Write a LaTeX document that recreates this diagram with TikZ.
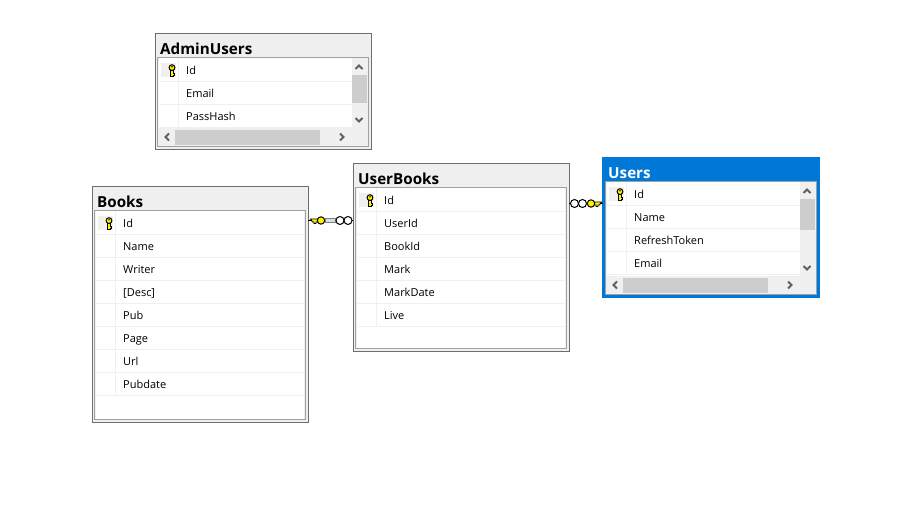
\documentclass[tikz,border=0pt]{standalone}
\usepackage{fontspec}
\setmainfont{Open Sans}
\definecolor{rowline}{HTML}{F0F0F0}
\definecolor{panelbg}{HTML}{F0F0F0}
\definecolor{titlebg}{HTML}{EFEFEF}
\definecolor{thumbc}{HTML}{CDCDCD}
\definecolor{edgec}{HTML}{6E6E6E}
\definecolor{panelc}{HTML}{A0A0A0}
\definecolor{selblue}{HTML}{0078D7}
\definecolor{chevc}{HTML}{606060}
\definecolor{keyc}{HTML}{FFF200}
\tikzset{
  lookplain/.style={fill=titlebg,draw=edgec,line width=1pt},
  lookselected/.style={fill=selblue,draw=selblue!85!black,line width=1pt},
  lookplaintitle/.style={text=black},
  lookselectedtitle/.style={text=white},
  titletext/.style={anchor=base west,inner sep=0pt,font=\bfseries\fontsize{15.2}{18}\selectfont},
  rowtext/.style={anchor=base west,inner sep=0pt,text=black,font=\fontsize{11}{14}\selectfont},
  panelbox/.style={fill=panelbg,draw=panelc,line width=1pt},
  rowrule/.style={draw=rowline,line width=1pt},
  chev/.style={draw=chevc,line width=1.9pt,line cap=butt,line join=miter},
  keyline/.style={draw=black,line width=1pt,fill=keyc},
  loopline/.style={draw=black,line width=1pt,fill=white},
  conn/.style={draw=black,line width=.6pt},
}
% vertical key icon
\newcommand{\dbkey}[2]{%
  \fill[keyc,draw=black,line width=.9pt] (#1-1.3,#2) -- (#1-1.3,#2+6) -- (#1+1,#2+6) -- (#1+1,#2+5) -- (#1+2.6,#2+5) -- (#1+2.6,#2+3.6) -- (#1+1,#2+3.6) -- (#1+1,#2) -- cycle;
  \draw[keyline] (#1,#2-2.4) circle[radius=2.9];
  \fill[black] (#1,#2-3.2) circle[radius=.8];
}
% name, x0, y0, height, title, rows, right edge of rows, bottom inset of white, look
\newcommand{\dbtable}[9]{%
  \node[#9,rectangle,inner sep=0pt,outer sep=0pt,minimum width=216pt,minimum height=#4pt] (#1) at (#2+108,#3+#4/2+.5) {};
  \node[titletext,#9title] (#1-title) at (#2+5,#3+21.5) {#5};
  \draw[panelbox] (#2+2.5,#3+25) rectangle (#2+213,#3+#4-2.5);
  \fill[white] (#2+3.5,#3+25.5) rectangle (#2+#7,#3+#4-#8);
  \fill[panelbg] (#2+6,#3+30) rectangle (#2+21,#3+44);
  \foreach \rowlabel [count=\i] in {#6}{
    \draw[rowrule] (#2+4,#3+48.5+23*\i-23) -- (#2+#7,#3+48.5+23*\i-23);
    \draw[rowrule] (#2+23.5,#3+48.5+23*\i-46) -- (#2+23.5,#3+48.5+23*\i-23);
    \node[rowtext] (#1-row\i) at (#2+31,#3+41.5+23*\i-23) {\rowlabel};
  }
  \dbkey{#2+17}{#3+37}
}
% x0, y0, height, vertical thumb end offset
\newcommand{\dbscroll}[4]{%
  \fill[thumbc] (#1+197,#2+42) rectangle (#1+212,#2+#4);
  \fill[thumbc] (#1+20,#2+#3-19) rectangle (#1+165,#2+#3-4);
  \draw[chev] (#1+200.5,#2+36) -- (#1+204,#2+32.5) -- (#1+207.5,#2+36);
  \draw[chev] (#1+200.5,#2+#3-31) -- (#1+204,#2+#3-27.5) -- (#1+207.5,#2+#3-31);
  \draw[chev] (#1+14,#2+#3-15.5) -- (#1+10.5,#2+#3-12) -- (#1+14,#2+#3-8.5);
  \draw[chev] (#1+185,#2+#3-15.5) -- (#1+188.5,#2+#3-12) -- (#1+185,#2+#3-8.5);
}
\begin{document}
\begin{tikzpicture}[x=1pt,y=-1pt]
\useasboundingbox[fill=white] (0,0) rectangle (909,510);

\dbtable{admin}{155}{33}{116}{AdminUsers}{Id,Email,PassHash}{197}{21}{lookplain}
\dbscroll{155}{33}{116}{70}
\dbtable{books}{92}{186}{236}{Books}{Id,Name,Writer,{[Desc]},Pub,Page,Url,Pubdate}{212}{3}{lookplain}
\dbtable{userbooks}{353}{163}{188}{UserBooks}{Id,UserId,BookId,Mark,MarkDate,Live}{212}{3}{lookplain}
\dbtable{users}{603}{157}{140}{Users}{Id,Name,RefreshToken,Email}{197}{21}{lookselected}
\draw[selblue,line width=2pt] (603.3,158) rectangle (819,296.5);
\draw[panelc,line width=1pt] (605.5,182) rectangle (816,294.5);
\dbscroll{603}{157}{140}{73}

% Books -- UserBooks
\coordinate (c1a) at (books.east |- 0,220.5);
\coordinate (c1b) at (userbooks.west |- 0,220.5);
\draw[conn] (c1a) -- (c1b);
\fill[keyc,draw=black,line width=.9pt] (310.5,219) -- (318,219) -- (318,222) -- (316,222) -- (316,223.5) -- (314,223.5) -- (314,222) -- (312.5,222) -- cycle;
\draw[keyline] (321,220.5) circle[radius=3.7];
\fill[thumbc!70!white,draw=gray,line width=.8pt] (325.5,218.5) rectangle (335,222.5);
\draw[loopline] (340,220.5) circle[radius=4];
\draw[loopline] (348,220.5) circle[radius=4];

% UserBooks -- Users
\coordinate (c2a) at (userbooks.east |- 0,203.5);
\coordinate (c2b) at (users.west |- 0,203.5);
\draw[conn] (c2a) -- (c2b);
\fill[keyc,draw=black,line width=.9pt] (601.5,202) -- (594,202) -- (594,205) -- (596,205) -- (596,206.5) -- (598,206.5) -- (598,205) -- (599.5,205) -- cycle;
\draw[loopline] (574.5,203.5) circle[radius=4];
\draw[loopline] (582.5,203.5) circle[radius=4];
\draw[keyline] (591,203.5) circle[radius=3.7];
\end{tikzpicture}
\end{document}
